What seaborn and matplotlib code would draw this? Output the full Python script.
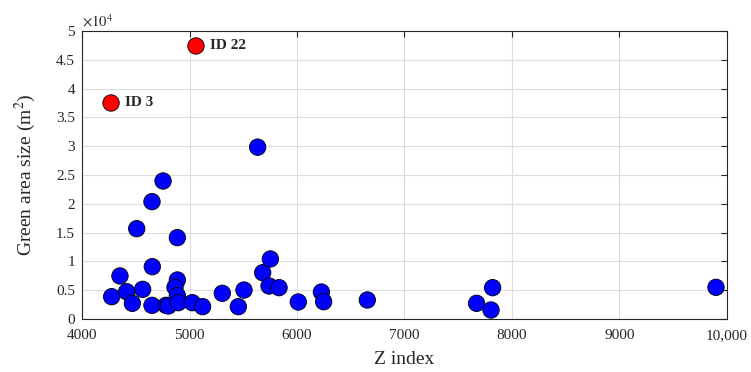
import numpy as np
import pandas as pd
import seaborn as sns
import matplotlib.pyplot as plt

# blue points: Z index vs green area size (m^2)
z_index = [4276, 4353, 4415, 4468, 4564, 4509, 4651, 4754, 4654, 4887,
           4651, 4781, 4803, 4887, 4865, 4887, 4896, 5026, 5122, 5305,
           5454, 5507, 5634, 5681, 5752, 5740, 5833, 6012, 6227, 6248,
           6654, 7671, 7820, 7805, 9898]
area = [3870, 7470, 4740, 2720, 5150, 15680, 20370, 23960, 9080, 14120,
        2370, 2370, 2260, 6770, 5500, 4050, 2830, 2830, 2140, 4460,
        2140, 5030, 29830, 8040, 10420, 5730, 5440, 2950, 4680, 3000,
        3300, 2720, 5440, 1560, 5500]

# highlighted outliers
out_ids = ['ID 3', 'ID 22']
out_z = [4270, 5060]
out_area = [37500, 47400]

x_ticks = [4000, 5000, 6000, 7000, 8000, 9000, 10000]
x_labels = ['4000', '5000', '6000', '7000', '8000', '9000', '10,000']
y_ticks = [0, 5000, 10000, 15000, 20000, 25000, 30000, 35000, 40000, 45000, 50000]
y_labels = ['0', '0.5', '1', '1.5', '2', '2.5', '3', '3.5', '4', '4.5', '5']

df = pd.DataFrame({'z': z_index + out_z,
                   'area': area + out_area,
                   'kind': ['normal'] * len(z_index) + ['outlier'] * len(out_z)})

sns.set_style('whitegrid')
plt.rcParams['font.family'] = ['Liberation Serif', 'DejaVu Serif']
plt.rcParams['mathtext.fontset'] = 'stix'

fig = plt.figure(figsize=(7.51, 3.72), dpi=100)
ax = fig.add_axes([0.1092, 0.1425, 0.8588, 0.7742])

sns.scatterplot(data=df, x='z', y='area', hue='kind',
                palette={'normal': '#0000ff', 'outlier': '#ff0000'},
                s=140, edgecolor='black', linewidth=0.6, legend=False, ax=ax,
                zorder=3)

for lab, xv, yv in zip(out_ids, out_z, out_area):
    ax.annotate(lab, (xv, yv), xytext=(10, 0), textcoords='offset points',
                va='center', ha='left', fontsize=11, fontweight='bold')

ax.set_xlim(4000, 10000)
ax.set_ylim(0, 50000)
ax.set_xticks(x_ticks)
ax.set_xticklabels(x_labels)
ax.set_yticks(y_ticks)
ax.set_yticklabels(y_labels)
ax.text(0, 1.005, r'$\times10^4$', transform=ax.transAxes, fontsize=10.5,
        ha='left', va='bottom', color='#262626')

ax.grid(True, color='#dcdcdc', linewidth=0.8)
ax.tick_params(axis='both', direction='in', length=4, top=True, right=True,
               labelsize=11, colors='#262626', pad=5)
ax.tick_params(axis='x', pad=7)
for sp in ax.spines.values():
    sp.set_visible(True)
    sp.set_color('#262626')
    sp.set_linewidth(0.8)

ax.set_xlabel('Z index', fontsize=14, labelpad=7)
ax.set_ylabel('Green area size (m$^2$)', fontsize=14, labelpad=13)

plt.savefig('out.png', dpi=100)
